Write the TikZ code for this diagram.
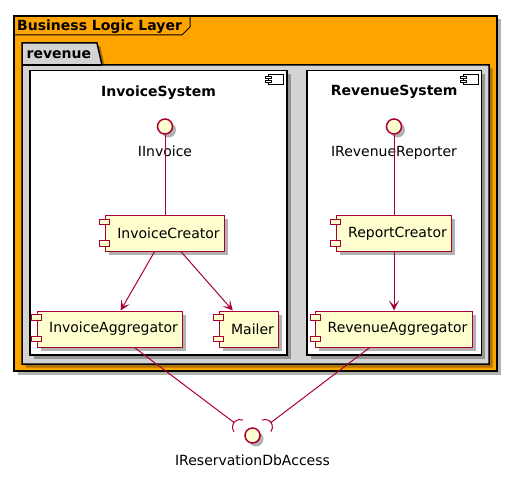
\documentclass[tikz,border=0pt]{standalone}
\usepackage{fontspec}
\setmainfont{DejaVu Sans}
\usetikzlibrary{arrows.meta,positioning,shadows,calc}

\definecolor{umlred}{HTML}{A80036}
\definecolor{umlyellow}{HTML}{FEFECE}
\definecolor{layerorange}{HTML}{FFA500}
\definecolor{pkggray}{HTML}{D3D3D3}

\begin{document}
\begin{tikzpicture}[x=1pt, y=-1pt,
  font=\fontsize{14pt}{16pt}\selectfont,
  umlshadow/.style={drop shadow={shadow xshift=3.5pt, shadow yshift=-3.5pt, fill=black, opacity=0.3}},
  comp/.style={rectangle, draw=umlred, fill=umlyellow, line width=1pt, minimum height=36pt,
    inner xsep=5pt, umlshadow, execute at begin node=\hspace*{7pt}},
  comppin/.style={draw=umlred, fill=umlyellow, line width=1pt},
  iface/.style={circle, draw=umlred, fill=umlyellow, line width=1.5pt, minimum size=15pt, inner sep=0pt, umlshadow},
  ifacelabel/.style={inner sep=0pt},
  sysbox/.style={rectangle, draw=black, fill=white, line width=1.5pt, umlshadow},
  sysicon/.style={draw=black, fill=white, line width=0.8pt},
  systitle/.style={inner sep=0pt, font=\fontsize{14pt}{16pt}\selectfont\bfseries},
  link/.style={draw=umlred, line width=1pt},
  arrow/.style={link, -{Stealth[length=10pt, width=10pt, inset=5pt]}}
]
\useasboundingbox (0,0) rectangle (510,478);

% Business Logic Layer frame
\draw[fill=layerorange, line width=1.5pt, umlshadow] (14,16) rectangle (497,371);
\draw[line width=1pt] (14,35) -- (182,35) -- (190,27) -- (190,16);
\node (layertitle) [systitle, anchor=base west] at (17,30.5) {Business Logic Layer};

% revenue package
\draw[fill=pkggray, line width=1.5pt, umlshadow] (22,65) -- (22,43) -- (97,43) -- (102,65) -- (489,65) -- (489,364) -- (22,364) -- cycle;
\draw[line width=1.5pt] (22,65) -- (102,65);
\node (pkgtitle) [systitle, anchor=base west] at (26.5,59) {revenue};

% components
\node (invsys) [sysbox, minimum width=257pt, minimum height=284.5pt] at (158.5,212.75) {};
\node (revsys) [sysbox, minimum width=174.5pt, minimum height=284.5pt] at (394.25,212.75) {};
\node (invsystitle) [systitle, below=15.5pt of invsys.north] {InvoiceSystem};
\node (revsystitle) [systitle, below=15.5pt of revsys.north] {RevenueSystem};
\foreach \s in {invsys, revsys} {
  \draw[sysicon] ($(\s.north east)+(-19,4.5)$) rectangle ++(15,10);
  \draw[sysicon] ($(\s.north east)+(-22,6.5)$) rectangle ++(6,2.5);
  \draw[sysicon] ($(\s.north east)+(-22,10.5)$) rectangle ++(6,2.5);
}

\node (iinv) [iface] at (165,126.5) {};
\node (iinvlbl) [ifacelabel, below=11pt of iinv] {IInvoice};
\node (invcreator) [comp] at (165,233.5) {InvoiceCreator};
\node (invagg) [comp] at (110,329) {InvoiceAggregator};
\node (mailer) [comp] at (249,329) {Mailer};

\node (irev) [iface] at (394,126.5) {};
\node (irevlbl) [ifacelabel, below=11pt of irev] {IRevenueReporter};
\node (repcreator) [comp] at (394,233.5) {ReportCreator};
\node (revagg) [comp] at (394,329) {RevenueAggregator};

\foreach \c in {invcreator, invagg, mailer, repcreator, revagg} {
  \draw[comppin] ($(\c.west)+(-5,-14.5)$) rectangle ++(10,5.5);
  \draw[comppin] ($(\c.west)+(-5,7)$) rectangle ++(10,5.5);
}

\node (idb) [iface] at (252.5,435.5) {};
\node (idblbl) [ifacelabel, below=11pt of idb] {IReservationDbAccess};
\coordinate (sockl) at ($(idb)+(-12.5,-8.5)$);
\coordinate (sockr) at ($(idb)+(12.5,-8.5)$);
\coordinate (dbl) at ($(sockl)+(216.9:7.5)$);
\coordinate (dbr) at ($(sockr)+(-36.9:7.5)$);

\draw [link] (iinv) -- (invcreator);
\draw [arrow] (invcreator) -- (invagg);
\draw [arrow] (invcreator) -- (mailer);
\draw [link] (irev) -- (repcreator);
\draw [arrow] (repcreator) -- (revagg);
\draw [link] (invagg) -- (dbl);
\draw [link] (revagg) -- (dbr);
\draw [link] ([shift={(142:7.5)}]sockl) arc[start angle=142, end angle=292, radius=7.5];
\draw [link] ([shift={(-112:7.5)}]sockr) arc[start angle=-112, end angle=38, radius=7.5];
\end{tikzpicture}
\end{document}
